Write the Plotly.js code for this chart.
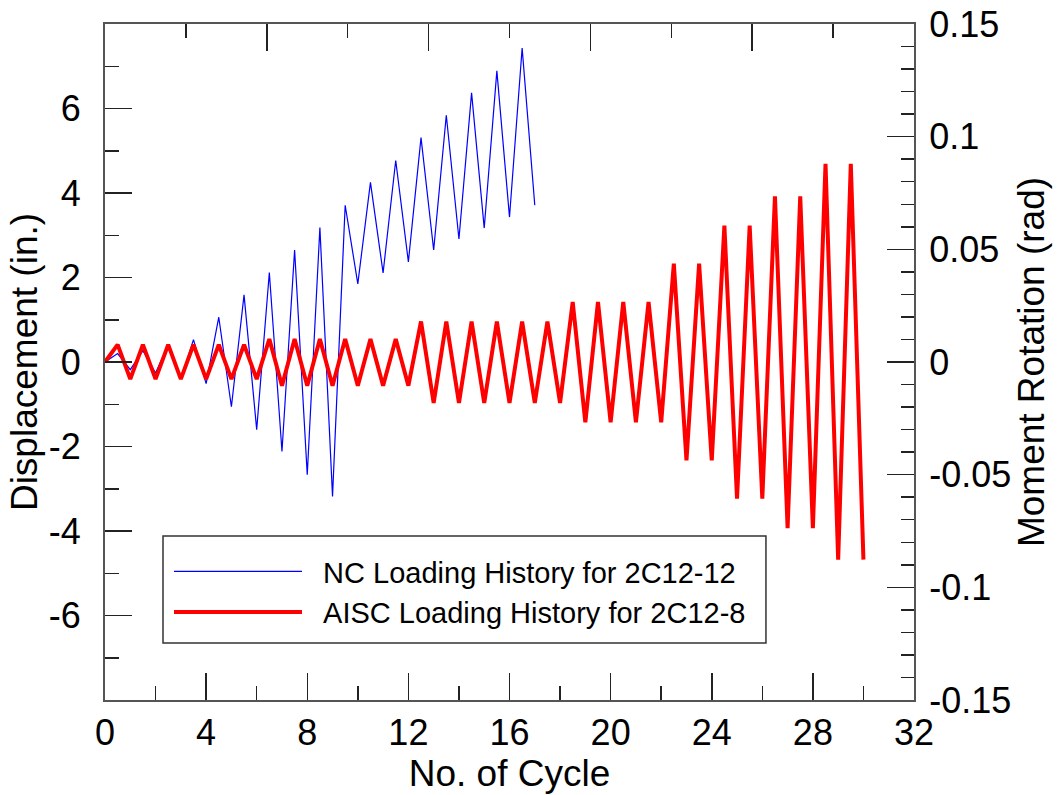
<!DOCTYPE html>
<html><head><meta charset="utf-8">
<script src="https://cdn.plot.ly/plotly-3.0.1.min.js"></script>
<style>html,body{margin:0;padding:0;background:#fff}#chart{width:1063px;height:795px}</style>
</head><body><div id="chart"></div>
<script>
// NC loading history (displacement, in.) vs. cycle number
const ncCycle = [0,0.5,1,1.5,2,2.5,3,3.5,4,4.5,5,5.5,6,6.5,7,7.5,8,8.5,9,9.5,10,10.5,11,11.5,12,12.5,13,13.5,14,14.5,15,15.5,16,16.5,17];
const ncDisp  = [0,0.2,-0.18,0.27,-0.26,0.41,-0.4,0.53,-0.51,1.06,-1.06,1.59,-1.6,2.12,-2.12,2.65,-2.67,3.18,-3.18,3.71,1.85,4.25,2.11,4.77,2.37,5.31,2.65,5.84,2.91,6.37,3.17,6.89,3.43,7.43,3.71];

// AISC loading history (moment rotation, rad) vs. cycle number
const aiscCycle = [0,0.5,1,1.5,2,2.5,3,3.5,4,4.5,5,5.5,6,6.5,7,7.5,8,8.5,9,9.5,10,10.5,11,11.5,12,12.5,13,13.5,14,14.5,15,15.5,16,16.5,17,17.5,18,18.5,19,19.5,20,20.5,21,21.5,22,22.5,23,23.5,24,24.5,25,25.5,26,26.5,27,27.5,28,28.5,29,29.5,30];
const aiscRot = [0,
  0.0077,-0.0076,0.0077,-0.0076,0.0077,-0.0076,0.0077,-0.0076,0.0077,-0.0076,0.0077,-0.0076,
  0.0102,-0.0105,0.0102,-0.0105,0.0102,-0.0105,0.0102,-0.0105,0.0102,-0.0105,0.0102,-0.0105,
  0.0180,-0.0182,0.0180,-0.0182,0.0180,-0.0182,0.0180,-0.0182,0.0180,-0.0182,0.0180,-0.0182,
  0.0266,-0.0268,0.0266,-0.0268,0.0266,-0.0268,0.0266,-0.0268,
  0.0436,-0.0437,0.0436,-0.0437,
  0.0605,-0.0607,0.0605,-0.0607,
  0.0735,-0.0737,0.0735,-0.0737,
  0.0879,-0.0877,0.0879,-0.0877];

const seriesNames = ["NC Loading History for 2C12-12", "AISC Loading History for 2C12-8"];
const xTicks = [0,4,8,12,16,20,24,28,32];
const yLeftTicks = [-6,-4,-2,0,2,4,6];
const yRightTicks = [-0.15,-0.1,-0.05,0,0.05,0.1,0.15];
const yRightLabels = ["-0.15","-0.1","-0.05","0","0.05","0.1","0.15"];

const FONT = "Liberation Sans, Arial, Helvetica, sans-serif";
const TICKC = "#222";
const LINEC = "#555";
const NB = "\u00a0\u00a0";

const traces = [
  {x: ncCycle, y: ncDisp, name: NB + seriesNames[0], type: "scatter", mode: "lines",
   line: {color: "#0000ff", width: 1.2}, xaxis: "x", yaxis: "y"},
  {x: aiscCycle, y: aiscRot, name: NB + seriesNames[1], type: "scatter", mode: "lines",
   line: {color: "#ff0000", width: 4}, xaxis: "x", yaxis: "y2"},
  {x: [], y: [], xaxis: "x2", yaxis: "y", showlegend: false, hoverinfo: "skip", mode: "lines"}
];

const common = {showgrid: false, zeroline: false, showline: true, linecolor: LINEC, linewidth: 2,
  ticks: "inside", tickcolor: TICKC, tickwidth: 1.5, ticklen: 27, automargin: false,
  tickfont: {family: FONT, size: 36, color: "#000"}};

const layout = {
  width: 1063, height: 795,
  paper_bgcolor: "#fff", plot_bgcolor: "#fff",
  margin: {l: 105, r: 149, t: 24, b: 95},
  font: {family: FONT, color: "#000"},
  showlegend: true,
  legend: {x: 0.0791, y: 0.2278, xanchor: "left", yanchor: "top", bgcolor: "rgba(0,0,0,0)",
    borderwidth: 0, font: {family: FONT, size: 29, color: "#000"},
    itemwidth: 128, tracegroupgap: 0},
  shapes: [{type: "rect", xref: "paper", yref: "paper", x0: 0.0717, x1: 0.817, y0: 0.0843, y1: 0.2426,
    line: {color: "#333", width: 1.5}, fillcolor: "#fff", layer: "below"}],
  xaxis: Object.assign({}, common, {
    range: [0, 32], tickmode: "array", tickvals: xTicks, ticktext: xTicks.map(String),
    minor: {tickmode: "linear", tick0: 0, dtick: 2, ticks: "inside", ticklen: 14, tickcolor: TICKC, tickwidth: 1.5},
    ticklabelstandoff: 0,
    title: {text: "No. of Cycle", font: {family: FONT, size: 37, color: "#000"}, standoff: 0}
  }),
  xaxis2: Object.assign({}, common, {
    overlaying: "x", side: "top", anchor: "y", range: [0, 10],
    tickmode: "linear", tick0: 0, dtick: 2, showticklabels: false,
    minor: {tickmode: "linear", tick0: 0, dtick: 1, ticks: "inside", ticklen: 14, tickcolor: TICKC, tickwidth: 1.5}
  }),
  yaxis: Object.assign({}, common, {
    range: [-8, 8], tickmode: "array", tickvals: yLeftTicks, ticktext: yLeftTicks.map(String),
    minor: {tickmode: "linear", tick0: 0, dtick: 1, ticks: "inside", ticklen: 14, tickcolor: TICKC, tickwidth: 1.5},
    ticklabelstandoff: 15,
    title: {text: "Displacement (in.)", font: {family: FONT, size: 37, color: "#000"}, standoff: 0}
  }),
  yaxis2: Object.assign({}, common, {
    overlaying: "y", side: "right", anchor: "x", range: [-0.15, 0.15],
    tickmode: "array", tickvals: yRightTicks, ticktext: yRightLabels,
    minor: {tickmode: "linear", tick0: 0, dtick: 0.01, ticks: "inside", ticklen: 13, tickcolor: TICKC, tickwidth: 1.5},
    ticklabelstandoff: 6,
    title: {text: "Moment Rotation (rad)", font: {family: FONT, size: 37, color: "#000"}, standoff: 5}
  })
};

Plotly.newPlot("chart", traces, layout, {displayModeBar: false, staticPlot: true});
</script>
</body></html>
